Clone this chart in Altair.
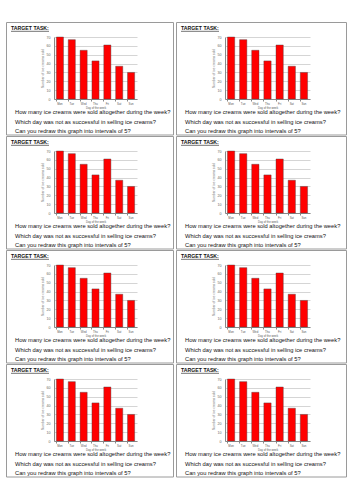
import altair as alt
import pandas as pd

days = ["Mon", "Tue", "Wed", "Thu", "Fri", "Sat", "Sun"]
sold = [70, 67, 55, 43, 61, 37, 30]
y_ticks = [0, 10, 20, 30, 40, 50, 60, 70]
heading = "TARGET TASK:"
questions = [
    "How many ice creams were sold altogether during the week?",
    "Which day was not as successful in selling ice creams?",
    "Can you redraw this graph into intervals of 5?",
]
y_title = "Number of ice creams sold"
x_title = "Day of the week"

df = pd.DataFrame({"day": days, "sold": sold})
one = pd.DataFrame({"k": [0]})

FONT = "Liberation Sans"


def card(ox, oy, pw, ph, cw, ch):
    border = alt.Chart(one).mark_rect(fillOpacity=0, stroke="#9a9a9a", strokeWidth=1).encode(
        x=alt.value(-ox + 0.5), x2=alt.value(cw - ox - 0.5),
        y=alt.value(-oy + 0.5), y2=alt.value(ch - oy - 0.5))
    head = alt.Chart(one).mark_text(align="left", baseline="alphabetic", font=FONT,
                                    fontSize=5.2, fontWeight="bold", color="#111",
                                    text=heading).encode(
        x=alt.value(-ox + 5), y=alt.value(-oy + 8))
    uline = alt.Chart(one).mark_rule(color="#111", strokeWidth=0.6).encode(
        x=alt.value(-ox + 5), x2=alt.value(-ox + 43), y=alt.value(-oy + 9.3))
    bars = alt.Chart(df).mark_bar(color="#ff0000", stroke="#444", strokeWidth=0.4).encode(
        x=alt.X("day:N", sort=days,
                scale=alt.Scale(paddingInner=0.4, paddingOuter=0.2),
                axis=alt.Axis(title=x_title, labelFontSize=2.8, titleFontSize=2.8,
                              labelFont=FONT, titleFont=FONT,
                              labelColor="#555", titleColor="#555", titleFontWeight="normal",
                              labelAngle=0, labelPadding=1, titlePadding=1,
                              tickSize=2, tickColor="#888", domainColor="#888",
                              ticks=True, bandPosition=0)),
        y=alt.Y("sold:Q", scale=alt.Scale(domain=[0, 70], nice=False),
                axis=alt.Axis(title=y_title, values=y_ticks, labelFontSize=3.6, titleFontSize=3.3,
                              labelFont=FONT, titleFont=FONT, labelColor="#666",
                              titleColor="#666", titleFontWeight="normal",
                              labelPadding=4, titlePadding=2, ticks=False,
                              grid=True, gridColor="#b8b8b8", gridWidth=0.6,
                              domainColor="#888")))
    texts = [
        alt.Chart(one).mark_text(align="left", baseline="alphabetic", font=FONT,
                                 fontSize=5.75, color="#111", text=q).encode(
            x=alt.value(-ox + 9), y=alt.value(-oy + 92 + 9.5 * i))
        for i, q in enumerate(questions)
    ]
    return alt.layer(border, head, uline, bars, *texts).properties(width=pw, height=ph)


rows = []
for r in range(4):
    left = card(ox=48, oy=15, pw=83, ph=62, cw=168, ch=113.5)
    right = card(ox=49, oy=15, pw=85, ph=62, cw=171, ch=113.5)
    rows.append(alt.hconcat(left, right, spacing=2).resolve_scale(x="independent", y="independent"))

chart = alt.vconcat(*rows, spacing=0).resolve_scale(x="independent", y="independent").properties(
    padding={"left": 6, "top": 22, "right": 0, "bottom": 0},
    background="white",
).configure_view(strokeWidth=0)

chart.save("out.html", embed_options={"renderer": "svg", "actions": False})
